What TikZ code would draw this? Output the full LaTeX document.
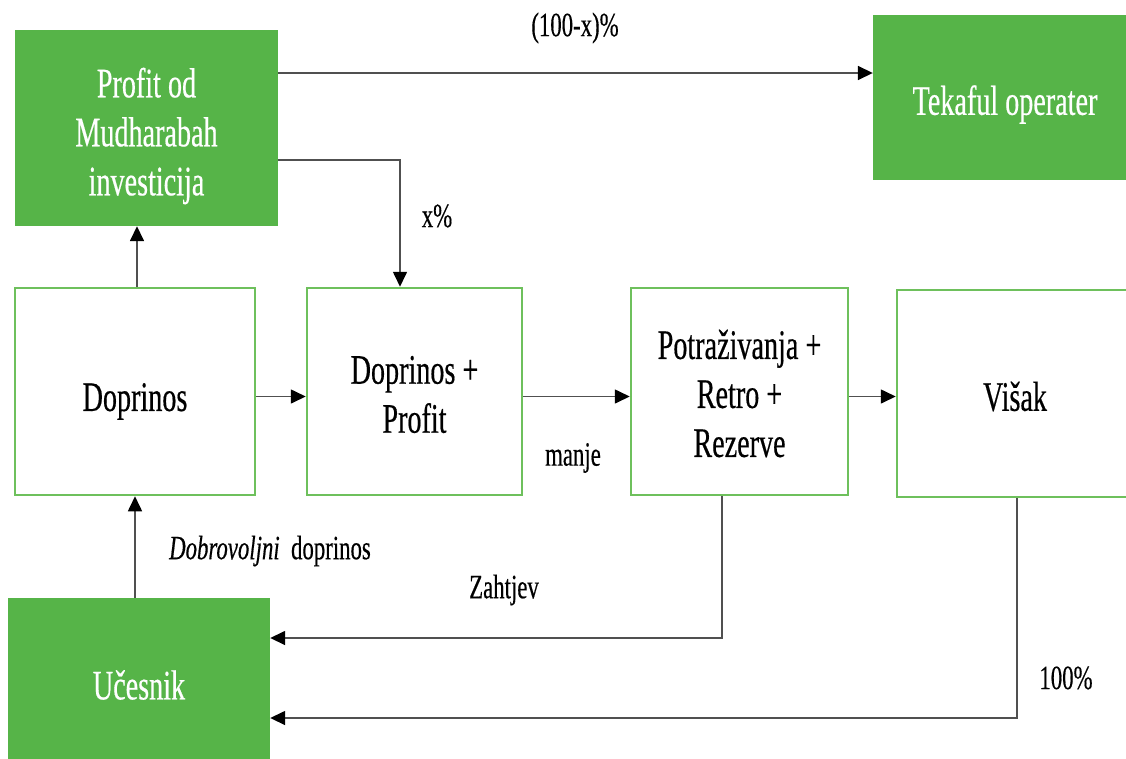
\documentclass[tikz,border=0pt]{standalone}
\usepackage{fontspec}
\setmainfont{Liberation Serif}[FakeStretch=0.67,FakeBold=0.4]
\usetikzlibrary{arrows.meta}
\definecolor{boxgreen}{RGB}{86,180,72}
\definecolor{edgegreen}{RGB}{110,192,92}
\definecolor{linegray}{RGB}{80,80,80}
\tikzset{
  greenbox/.style={fill=boxgreen, draw=none, inner sep=0pt},
  whitebox/.style={fill=white, draw=edgegreen, line width=2.5pt, inner sep=0pt},
  boxtext/.style={align=center, font=\fontsize{42}{49}\selectfont, inner sep=0pt},
  whitetext/.style={boxtext, text=white},
  flow/.style={draw=linegray, line width=1.6pt,
    -{Triangle[length=15pt,width=14pt,black]}},
  lbl/.style={font=\fontsize{34}{40}\selectfont, inner sep=0pt}
}
\begin{document}
\begin{tikzpicture}[x=1pt,y=-1pt]
\useasboundingbox (0,0) rectangle (1126,758);
\clip (0,0) rectangle (1126,758);

% boxes
\node[greenbox, minimum width=263pt, minimum height=196pt] (prof) at (146.5,128) {};
\node[greenbox, minimum width=264pt, minimum height=165pt] (tek) at (1005,97.5) {};
\node[whitebox, minimum width=240pt, minimum height=207pt] (dop) at (135,391.5) {};
\node[whitebox, minimum width=215pt, minimum height=207pt] (dp) at (414.5,391.5) {};
\node[whitebox, minimum width=217pt, minimum height=207pt] (pot) at (739.5,391.5) {};
\node[whitebox, minimum width=236pt, minimum height=207pt] (vis) at (1015,393.5) {};
\node[greenbox, minimum width=262pt, minimum height=174pt] (uc) at (139,685) {};

% box texts
\node[whitetext] (proft) at ([yshift=-8pt]prof.center) {Profit od\\Mudharabah\\investicija};
\node[whitetext] (tekt) at ([yshift=-7pt]tek.center) {Tekaful operater};
\node[boxtext] (dopt) at ([yshift=-10pt]dop.center) {Doprinos};
\node[boxtext] (dpt) at ([yshift=-3pt]dp.center) {Doprinos +\\Profit};
\node[boxtext] (pott) at ([yshift=-2pt]pot.center) {Potraživanja +\\Retro +\\Rezerve};
\node[boxtext] (vist) at ([yshift=-3pt]vis.center) {Višak};
\node[whitetext] (uct) at (uc.center) {Učesnik};

% connectors
\coordinate (p1) at ([yshift=55pt]prof.east);
\coordinate (p2) at ([yshift=-32pt]prof.east);
\coordinate (q2) at ([xshift=-14.5pt]dp.north);
\draw[flow] (p1) -- (p1 -| tek.west);
\draw[flow] (p2) -| (q2);
\draw[flow] ([xshift=2pt]dop.north) -- ([xshift=2pt]dop.north |- prof.south);
\draw[flow] ([yshift=-5pt]dop.east) -- ([yshift=-5pt]dp.west);
\draw[flow] ([yshift=-5pt]dp.east) -- ([yshift=-5pt]pot.west);
\draw[flow] ([yshift=-5pt]pot.east) -- ([yshift=-5pt]pot.east -| vis.west);
\draw[flow] (dop.south |- uc.north) -- (dop.south);
\draw[flow] ([xshift=-17.5pt]pot.south) |- ([yshift=47pt]uc.east);
\draw[flow] ([xshift=2pt]vis.south) |- ([yshift=-33pt]uc.east);

% labels
\node[lbl] (l1) at (575,28) {(100-x)\%};
\node[lbl] (l2) at (437,216) {x\%};
\node[lbl] (l3) at (573,458) {manje};
\node[lbl] (l4) at (270,551) {\textit{Dobrovoljni}\, doprinos};
\node[lbl] (l5) at (504,590) {Zahtjev};
\node[lbl] (l6) at (1066,678) {100\%};
\end{tikzpicture}
\end{document}
